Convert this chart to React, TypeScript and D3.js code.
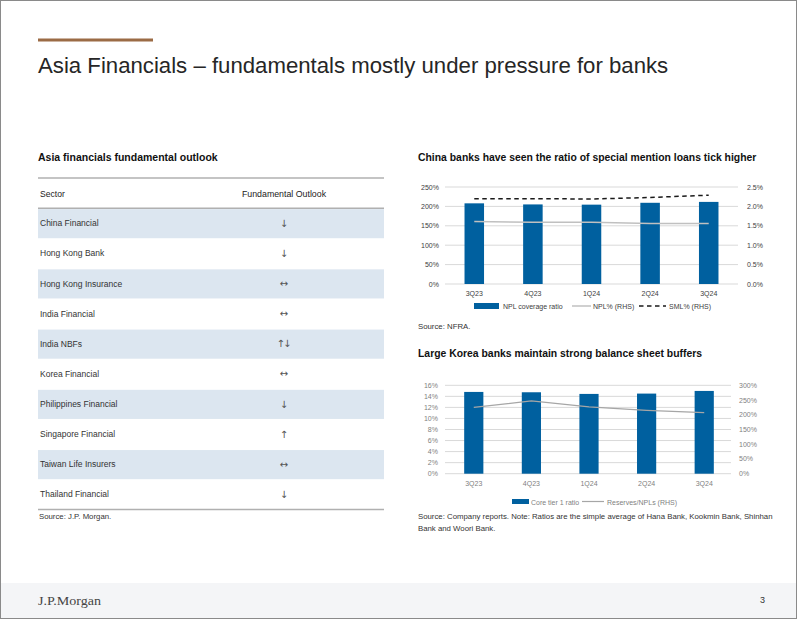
import React from "react";
import * as d3 from "d3";

const quarters = ["3Q23", "4Q23", "1Q24", "2Q24", "3Q24"];
const nplCoverage = [207.9, 205.1, 204.5, 209.3, 211.6];
const nplRatio = [1.61, 1.59, 1.59, 1.56, 1.56];
const smlRatio = [2.2, 2.2, 2.19, 2.23, 2.29];
const c1LeftTicks = [0, 50, 100, 150, 200, 250];
const c1RightTicks = [0, 0.5, 1.0, 1.5, 2.0, 2.5];

const coreTier1 = [14.8, 14.74, 14.44, 14.5, 14.98];
const reservesNpl = [225, 247, 227, 215, 207];
const c2LeftTicks = [0, 2, 4, 6, 8, 10, 12, 14, 16];
const c2RightTicks = [0, 50, 100, 150, 200, 250, 300];

const sectors = [
  "China Financial",
  "Hong Kong Bank",
  "Hong Kong Insurance",
  "India Financial",
  "India NBFs",
  "Korea Financial",
  "Philippines Financial",
  "Singapore Financial",
  "Taiwan Life Insurers",
  "Thailand Financial",
];
const outlooks = ["↓", "↓", "↔", "↔", "↑↓", "↔", "↓", "↑", "↔", "↓"];

const FONT = "'Liberation Sans', Arial, sans-serif";
const BLUE = "#00609f";

function Chart1() {
  const x = d3.scaleBand().domain(quarters).range([445, 738]).paddingInner(0.667).paddingOuter(0.333);
  const yL = d3.scaleLinear().domain([0, 250]).range([284, 187]);
  const yR = d3.scaleLinear().domain([0, 2.5]).range([284, 187]);
  const cx = (q: string) => (x(q) as number) + x.bandwidth() / 2;
  const nplLine = d3.line<number>().x((_, i) => cx(quarters[i])).y((d) => yR(d))(nplRatio) as string;
  const smlLine = d3.line<number>().x((_, i) => cx(quarters[i])).y((d) => yR(d))(smlRatio) as string;
  return (
    <g fontFamily={FONT}>
      <text x={418} y={161} fontSize={10.4} fontWeight="bold" fill="#111">
        China banks have seen the ratio of special mention loans tick higher
      </text>
      {c1LeftTicks.map((t) => (
        <g key={"g" + t}>
          <line x1={445} x2={738} y1={yL(t)} y2={yL(t)} stroke="#d9d9d9" strokeWidth={1} />
          <text x={439} y={yL(t) + 2.5} fontSize={7} textAnchor="end" fill="#404040">{t}%</text>
        </g>
      ))}
      {c1RightTicks.map((t) => (
        <text key={"r" + t} x={747} y={yR(t) + 2.5} fontSize={7} fill="#404040">{t.toFixed(1)}%</text>
      ))}
      {quarters.map((q, i) => (
        <rect key={q} x={x(q)} y={yL(nplCoverage[i])} width={x.bandwidth()} height={284 - yL(nplCoverage[i])} fill={BLUE} />
      ))}
      <path d={nplLine} fill="none" stroke="#c0c0c0" strokeWidth={1.5} />
      <path d={smlLine} fill="none" stroke="#1a1a1a" strokeWidth={1.5} strokeDasharray="4.5,3.5" />
      {quarters.map((q) => (
        <text key={"x" + q} x={cx(q)} y={296} fontSize={7} textAnchor="middle" fill="#404040">{q}</text>
      ))}
      <rect x={474} y={303} width={25} height={6} fill={BLUE} />
      <text x={503} y={308.5} fontSize={7} fill="#404040">NPL coverage ratio</text>
      <line x1={572} x2={591} y1={306} y2={306} stroke="#c0c0c0" strokeWidth={1.5} />
      <text x={593} y={308.5} fontSize={7} fill="#404040">NPL% (RHS)</text>
      <line x1={639} x2={666} y1={306} y2={306} stroke="#1a1a1a" strokeWidth={1.5} strokeDasharray="4.5,3.5" />
      <text x={669} y={308.5} fontSize={7} fill="#404040">SML% (RHS)</text>
      <text x={418} y={329} fontSize={7.8} fill="#333">Source: NFRA.</text>
    </g>
  );
}

function Chart2() {
  const x = d3.scaleBand().domain(quarters).range([445, 733]).paddingInner(0.667).paddingOuter(0.333);
  const yL = d3.scaleLinear().domain([0, 16]).range([473.7, 385.3]);
  const yR = d3.scaleLinear().domain([0, 300]).range([473.7, 385.3]);
  const cx = (q: string) => (x(q) as number) + x.bandwidth() / 2;
  const resLine = d3.line<number>().x((_, i) => cx(quarters[i])).y((d) => yR(d))(reservesNpl) as string;
  return (
    <g fontFamily={FONT}>
      <text x={418} y={357} fontSize={10.4} fontWeight="bold" fill="#111">
        Large Korea banks maintain strong balance sheet buffers
      </text>
      {c2LeftTicks.map((t) => (
        <g key={"g" + t}>
          <line x1={445} x2={731} y1={yL(t)} y2={yL(t)} stroke="#d9d9d9" strokeWidth={1} />
          <text x={438} y={yL(t) + 2.5} fontSize={7} textAnchor="end" fill="#7f7f7f">{t}%</text>
        </g>
      ))}
      {c2RightTicks.map((t) => (
        <text key={"r" + t} x={739} y={yR(t) + 2.5} fontSize={7} fill="#7f7f7f">{t}%</text>
      ))}
      {quarters.map((q, i) => (
        <rect key={q} x={x(q)} y={yL(coreTier1[i])} width={x.bandwidth()} height={473.7 - yL(coreTier1[i])} fill={BLUE} />
      ))}
      <path d={resLine} fill="none" stroke="#a6a6a6" strokeWidth={1.2} />
      {quarters.map((q) => (
        <text key={"x" + q} x={cx(q)} y={486} fontSize={7} textAnchor="middle" fill="#7f7f7f">{q}</text>
      ))}
      <rect x={512} y={499} width={17} height={5} fill={BLUE} />
      <text x={531} y={504.5} fontSize={7} fill="#7f7f7f">Core tier 1 ratio</text>
      <line x1={582} x2={604} y1={501.5} y2={501.5} stroke="#a6a6a6" strokeWidth={1.2} />
      <text x={607} y={504.5} fontSize={7} fill="#7f7f7f">Reserves/NPLs (RHS)</text>
      <text x={418} y={519} fontSize={7.8} fill="#333">
        Source: Company reports. Note: Ratios are the simple average of Hana Bank, Kookmin Bank, Shinhan
      </text>
      <text x={418} y={530.5} fontSize={7.8} fill="#333">Bank and Woori Bank.</text>
    </g>
  );
}

function Table() {
  const rowY = d3.scaleBand().domain(sectors).range([208.3, 509.5]);
  return (
    <g fontFamily={FONT}>
      <text x={38} y={161} fontSize={10.5} fontWeight="bold" fill="#111">
        Asia financials fundamental outlook
      </text>
      <line x1={38} x2={384} y1={178} y2={178} stroke="#b0b0b0" strokeWidth={1.5} />
      <text x={40} y={197} fontSize={8.6} fill="#222">Sector</text>
      <text x={284} y={197} fontSize={8.8} fill="#222" textAnchor="middle">Fundamental Outlook</text>
      <line x1={38} x2={384} y1={208.3} y2={208.3} stroke="#b0b0b0" strokeWidth={1.5} />
      {sectors.map((s, i) => (
        <g key={s}>
          {i % 2 === 0 && (
            <rect x={38} y={(rowY(s) as number) + 0.8} width={346} height={rowY.bandwidth() - 1} fill="#dce6f0" />
          )}
          <text x={40} y={(rowY(s) as number) + rowY.bandwidth() / 2 + 3} fontSize={8.5} fill="#333">{s}</text>
          <text x={283} y={(rowY(s) as number) + rowY.bandwidth() / 2 + 3.5} fontSize={10} fill="#555" textAnchor="middle"
            fontFamily="'DejaVu Sans', sans-serif" letterSpacing={-2}>{outlooks[i]}</text>
        </g>
      ))}
      <line x1={38} x2={384} y1={509.5} y2={509.5} stroke="#b0b0b0" strokeWidth={1.5} />
      <text x={39} y={519} fontSize={7.8} fill="#333">Source: J.P. Morgan.</text>
    </g>
  );
}

export default function App() {
  return (
    <svg width={802} height={620} style={{ position: "absolute", left: 0, top: 0, background: "#fff" }}>
      <rect x={0} y={0} width={802} height={620} fill="#fff" />
      <rect x={1} y={583} width={795} height={35} fill="#f4f5f7" />
      <rect x={0.5} y={0.5} width={796} height={618} fill="none" stroke="#8a8a8a" strokeWidth={1} />
      <rect x={38} y={38.5} width={115} height={3} fill="#9b6b45" />
      <text x={38} y={72.5} fontSize={22.2} fontFamily={FONT} fill="#262626">
        Asia Financials – fundamentals mostly under pressure for banks
      </text>
      <Table />
      <Chart1 />
      <Chart2 />
      <text x={38} y={605} fontSize={13} fontFamily="'Liberation Serif', 'DejaVu Serif', serif" fill="#444"
        textLength={63} lengthAdjust="spacingAndGlyphs">J.P.Morgan</text>
      <text x={760} y={603} fontSize={9} fontFamily={FONT} fill="#333">3</text>
    </svg>
  );
}
